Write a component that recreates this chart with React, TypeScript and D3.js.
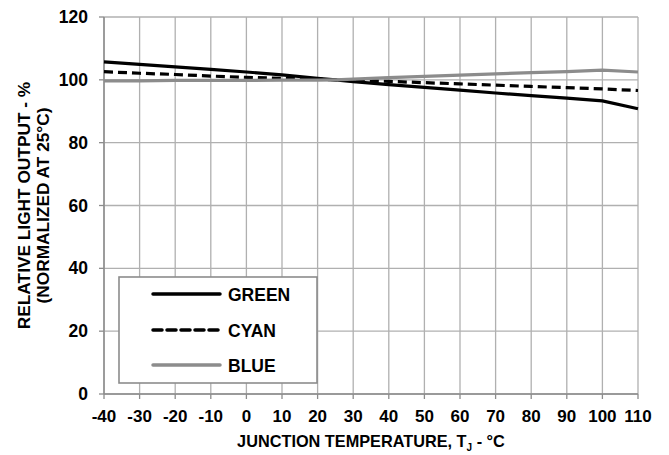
import React from "react";
import * as d3 from "d3";

const temps = [-40, -30, -20, -10, 0, 10, 20, 25, 30, 40, 50, 60, 70, 80, 90, 100, 110];
const green = [105.7, 104.9, 104.1, 103.3, 102.5, 101.6, 100.5, 100, 99.4, 98.5, 97.6, 96.7, 95.8, 95.0, 94.2, 93.3, 90.8];
const cyan = [102.6, 102.1, 101.7, 101.2, 100.8, 100.5, 100.2, 100, 99.8, 99.5, 99.1, 98.7, 98.3, 97.9, 97.5, 97.1, 96.6];
const blue = [99.7, 99.7, 99.8, 99.8, 99.8, 99.9, 99.9, 100, 100.2, 100.7, 101.1, 101.5, 101.9, 102.3, 102.6, 103.1, 102.5];
const xTicks = d3.range(-40, 111, 10);
const yTicks = [0, 20, 40, 60, 80, 100, 120];
const seriesNames = ["GREEN", "CYAN", "BLUE"];

const W = 669, H = 455;
const L = 104, R = 638, T = 17, B = 394;
const font = "'Liberation Sans', Arial, sans-serif";

export default function App() {
  const x = d3.scaleLinear().domain([-40, 110]).range([L, R]);
  const y = d3.scaleLinear().domain([0, 120]).range([B, T]);
  const line = d3.line<number>().x((_, i) => x(temps[i])).y((d) => y(d));
  const styles = [
    { stroke: "#000", dash: undefined as string | undefined },
    { stroke: "#000", dash: "9,5" },
    { stroke: "#8c8c8c", dash: undefined },
  ];
  const data = [green, cyan, blue];
  const legY = [294, 330, 365];
  return (
    <svg width={W} height={H} style={{ position: "absolute", left: 0, top: 0, background: "#fff" }}>
      <rect width={W} height={H} fill="#fff" />
      {xTicks.map((t) => (
        <line key={"vx" + t} x1={x(t)} x2={x(t)} y1={T} y2={B} stroke="#b0b0b0" strokeWidth={1.3} />
      ))}
      {yTicks.map((t) => (
        <line key={"hy" + t} x1={L} x2={R} y1={y(t)} y2={y(t)} stroke="#b0b0b0" strokeWidth={1.3} />
      ))}
      <line x1={L} x2={L} y1={T} y2={B} stroke="#8c8c8c" strokeWidth={1.5} />
      <line x1={L} x2={R} y1={B} y2={B} stroke="#8c8c8c" strokeWidth={1.5} />
      {yTicks.map((t) => (
        <g key={"yt" + t}>
          <line x1={L - 5} x2={L} y1={y(t)} y2={y(t)} stroke="#8c8c8c" strokeWidth={1.3} />
          <text x={88} y={y(t) + 6} textAnchor="end" fontFamily={font} fontWeight="bold" fontSize={17.5}>
            {t}
          </text>
        </g>
      ))}
      {xTicks.map((t) => (
        <g key={"xt" + t}>
          <line x1={x(t)} x2={x(t)} y1={B} y2={B + 5} stroke="#8c8c8c" strokeWidth={1.3} />
          <text x={x(t)} y={422} textAnchor="middle" fontFamily={font} fontWeight="bold" fontSize={17}>
            {t}
          </text>
        </g>
      ))}
      {data.map((d, i) => (
        <path key={"s" + i} d={line(d) || ""} fill="none" stroke={styles[i].stroke} strokeWidth={3.2} strokeDasharray={styles[i].dash} />
      ))}
      <rect x={119} y={277} width={198} height={106} fill="#fff" stroke="#8c8c8c" strokeWidth={1.6} />
      {seriesNames.map((n, i) => (
        <g key={"lg" + n}>
          <line x1={153} x2={220} y1={legY[i]} y2={legY[i]} stroke={styles[i].stroke} strokeWidth={3.5} strokeDasharray={styles[i].dash} strokeLinecap="round" />
          <text x={228} y={legY[i] + 6.5} fontFamily={font} fontWeight="bold" fontSize={17.5}>
            {n}
          </text>
        </g>
      ))}
      <text x={(L + R) / 2} y={447} textAnchor="middle" fontFamily={font} fontWeight="bold" fontSize={16.3}>
        JUNCTION TEMPERATURE, T
        <tspan fontSize={10} dy={4}>J</tspan>
        <tspan dy={-4}> - °C</tspan>
      </text>
      <g transform={`translate(30, ${(T + B) / 2}) rotate(-90)`}>
        <text x={0} y={0} textAnchor="middle" fontFamily={font} fontWeight="bold" fontSize={17.3}>
          RELATIVE LIGHT OUTPUT - %
        </text>
        <text x={0} y={18.5} textAnchor="middle" fontFamily={font} fontWeight="bold" fontSize={17.3}>
          (NORMALIZED AT 25°C)
        </text>
      </g>
    </svg>
  );
}
